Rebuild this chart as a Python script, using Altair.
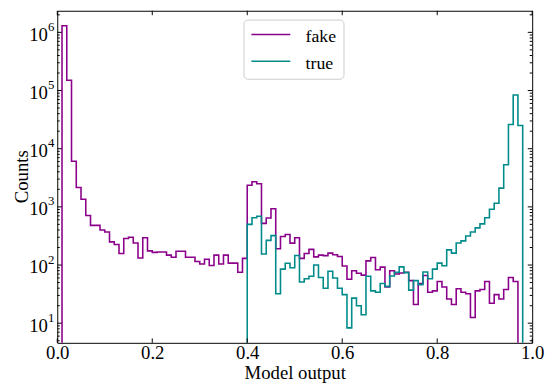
import altair as alt
import pandas as pd

# ---------------- data ----------------
bin_width = 0.01
n_bins = 100

fake_counts = [
    0, 1.3e6, 1.5e5, 6100, 2150, 1350, 710, 480, 480, 400,
    370, 250, 225, 158, 285, 300, 240, 132, 295, 175,
    165, 168, 168, 148, 136, 172, 172, 136, 136, 115,
    104, 126, 98, 148, 104, 148, 108, 108, 75, 130,
    2350, 2700, 2500, 520, 645, 930, 190, 310, 335, 238,
    295, 130, 158, 186, 138, 148, 145, 160, 150, 140,
    96, 57, 80, 72, 67, 118, 135, 83, 92, 42,
    80, 70, 73, 75, 54, 21, 48, 66, 34, 36,
    52, 42, 26, 21, 39, 34, 32, 12.5, 36, 38,
    52, 22, 31, 26, 38, 61, 52, 0, 0, 0,
]
true_counts = [0] * 40 + [
    500, 650, 690, 155, 265, 320, 32, 85, 107, 90,
    146, 51, 58, 64, 100, 61, 40, 78, 60, 40,
    31, 8.3, 27, 20, 14, 64, 36, 34, 48, 43,
    65, 75, 93, 74, 37, 54, 46, 76, 58, 85,
    108, 97, 182, 160, 240, 260, 315, 370, 435, 510,
    650, 910, 1150, 2100, 5300, 26000, 84000, 25000, 0, 0,
]

series_names = ["fake", "true"]
series_colors = ["#8B008B", "#008B8B"]
x_tick_values = [0.0, 0.2, 0.4, 0.6, 0.8, 1.0]
y_major_values = [1e1, 1e2, 1e3, 1e4, 1e5, 1e6]
y_exponents = ["1", "2", "3", "4", "5", "6"]
y_domain = [4.6, 2.35e6]
x_title = "Model output"
y_title = "Counts"

# ---------------- layout ----------------
W, H = 482, 337
FONT = "Liberation Serif"
FS = 19
MAJ, MIN = 4.5, 2.5

# step data: one point per bin left edge plus the final edge
rows = []
for name, counts in zip(series_names, [fake_counts, true_counts]):
    for i, c in enumerate(counts):
        rows.append({"series": name, "x": i * bin_width, "count": c})
    rows.append({"series": name, "x": n_bins * bin_width, "count": counts[-1]})
df = pd.DataFrame(rows)
df["y"] = df["count"].clip(lower=1)  # zeros drawn below the axis (clipped)

x_scale = alt.Scale(domain=[0, 1], nice=False, zero=False)
y_scale = alt.Scale(type="log", domain=y_domain, nice=False)
x_axis = alt.Axis(
    values=x_tick_values, format=".1f", ticks=False, domain=False, grid=False,
    labelFont=FONT, labelFontSize=FS, labelColor="black", labelPadding=1,
    labelFlush=False, title=x_title, titleFont=FONT, titleFontSize=FS,
    titleFontWeight="normal", titleColor="black", titlePadding=1,
)

lines = alt.Chart(df).mark_line(interpolate="step-after", strokeWidth=1.6, clip=True).encode(
    x=alt.X("x:Q", scale=x_scale, axis=x_axis),
    y=alt.Y("y:Q", scale=y_scale, axis=None),
    color=alt.Color("series:N", scale=alt.Scale(domain=series_names, range=series_colors), legend=None),
    detail="series:N",
)

# inward ticks
xt = pd.DataFrame({"x": x_tick_values})
xt_bottom = alt.Chart(xt).mark_rule(color="black", strokeWidth=1).encode(
    x=alt.X("x:Q", scale=x_scale, axis=x_axis), y=alt.value(H), y2=alt.value(H - MAJ))
xt_top = alt.Chart(xt).mark_rule(color="black", strokeWidth=1).encode(
    x=alt.X("x:Q", scale=x_scale, axis=x_axis), y=alt.value(0), y2=alt.value(MAJ))

minor_vals = [m * 10 ** k for k in range(0, 7) for m in range(2, 10)
              if y_domain[0] < m * 10 ** k < y_domain[1]]
ymaj = pd.DataFrame({"y": y_major_values, "base": ["10"] * len(y_major_values), "exp": y_exponents})
ymin = pd.DataFrame({"y": minor_vals})

def yticks(data, length):
    left = alt.Chart(data).mark_rule(color="black", strokeWidth=1).encode(
        y=alt.Y("y:Q", scale=y_scale, axis=None), x=alt.value(0), x2=alt.value(length))
    right = alt.Chart(data).mark_rule(color="black", strokeWidth=1).encode(
        y=alt.Y("y:Q", scale=y_scale, axis=None), x=alt.value(W), x2=alt.value(W - length))
    return [left, right]

ylab_base = alt.Chart(ymaj).mark_text(font=FONT, fontSize=FS, align="right", baseline="middle", dy=2.5, color="black").encode(
    y=alt.Y("y:Q", scale=y_scale, axis=None), x=alt.value(-9.5), text="base:N")
ylab_exp = alt.Chart(ymaj).mark_text(font=FONT, fontSize=13, align="left", baseline="middle", dy=-5.5, color="black").encode(
    y=alt.Y("y:Q", scale=y_scale, axis=None), x=alt.value(-9.5), text="exp:N")

one = pd.DataFrame({"t": [y_title]})
ytitle = alt.Chart(one).mark_text(font=FONT, fontSize=FS, angle=270, align="center", baseline="alphabetic", color="black").encode(
    x=alt.value(-30), y=alt.value(H / 2), text="t:N")

# legend (matplotlib style box at upper center)
leg = [alt.Chart(pd.DataFrame({"a": [0]})).mark_rect(
    fill="white", stroke="#cccccc", strokeWidth=1, cornerRadius=4).encode(
    x=alt.value(189.5), x2=alt.value(291), y=alt.value(9.5), y2=alt.value(69.5))]
for i, (name, col) in enumerate(zip(series_names, series_colors)):
    yy = 24 + 27.3 * i
    leg.append(alt.Chart(pd.DataFrame({"s": [name]})).mark_rule(color=col, strokeWidth=1.6).encode(
        x=alt.value(197), x2=alt.value(236.5), y=alt.value(yy)))
    leg.append(alt.Chart(pd.DataFrame({"s": [name]})).mark_text(
        font=FONT, fontSize=18, align="left", baseline="alphabetic", color="black").encode(
        x=alt.value(252), y=alt.value(yy + 7.3), text="s:N"))

chart = alt.layer(
    lines, xt_bottom, xt_top, *yticks(ymaj, MAJ), *yticks(ymin, MIN),
    ylab_base, ylab_exp, ytitle, *leg,
).properties(
    width=W, height=H,
    autosize=alt.AutoSizeParams(type="none"),
    padding={"left": 50, "top": 0, "right": 13, "bottom": 40},
    background="white",
).configure_view(stroke="black", strokeWidth=1)

chart.save("out.html", embed_options={"renderer": "svg", "actions": False})
